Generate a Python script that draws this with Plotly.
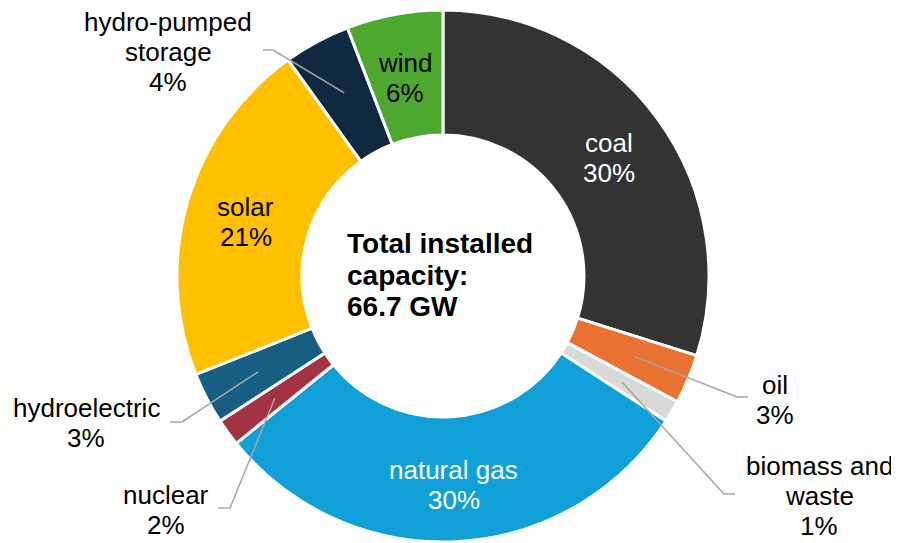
import math

import plotly.graph_objects as go

# installed capacity by source, GW (total 66.7 GW)
SOURCES = [
    "coal",
    "oil",
    "biomass and<br>waste",
    "natural gas",
    "nuclear",
    "hydroelectric",
    "solar",
    "hydro-pumped<br>storage",
    "wind",
]
CAPACITY_GW = [19.9, 2.0, 0.9, 20.0, 1.1, 2.1, 14.1, 2.7, 3.9]
COLORS = [
    "#333333",
    "#E97132",
    "#D9D9D9",
    "#119FD7",
    "#A33342",
    "#175F82",
    "#FFC000",
    "#0F2941",
    "#4EA72E",
]
CENTER_TEXT = ["Total installed", "capacity:", "66.7 GW"]

# page is 899x543; the browser body adds an 8px margin around the plot div
PAGE_W, PAGE_H, BODY = 899, 543, 8
W, H = PAGE_W - BODY, PAGE_H - BODY
CX, CY, R = 443, 276, 266  # donut centre / outer radius, page pixels
HOLE = 0.53
FONT = "Liberation Sans, Arial, sans-serif"
SIZE = 26
LINE_H = 30

# labels drawn inside the ring: source -> text colour
INSIDE = {"coal": "white", "natural gas": "white", "solar": "black", "wind": "black"}
# labels outside with a leader line: source -> (label x, first line y, elbow, end)
OUTSIDE = {
    "oil": (775, 385, (737, 397), (748, 397)),
    "biomass and<br>waste": (819, 466, (724, 494), (735, 494)),
    "hydroelectric": (86, 408, (182, 422), (170, 422)),
    "nuclear": (166, 495, (230, 508), (218, 508)),
    "hydro-pumped<br>storage": (168, 22, (273, 50), (263, 50)),
}


def px(x):
    return (x - BODY) / W


def py(y):
    return 1 - (y - BODY) / H


def polar(angle_deg, r):
    a = math.radians(angle_deg)
    return CX + r * math.sin(a), CY - r * math.cos(a)


def add_lines(fig, x, y0, lines, color="black", bold=False, anchor="center",
              size=SIZE, step=LINE_H):
    for k, line in enumerate(lines):
        fig.add_annotation(
            x=px(x),
            y=py(y0 + k * step),
            xref="paper",
            yref="paper",
            text=f"<b>{line}</b>" if bold else line,
            showarrow=False,
            xanchor=anchor,
            yanchor="middle",
            font=dict(family=FONT, size=size, color=color),
        )


total = sum(CAPACITY_GW)
pcts = [round(v / total * 100) for v in CAPACITY_GW]
mids = []
cum = 0.0
for v in CAPACITY_GW:
    mids.append((cum + v / 2) / total * 360)
    cum += v

fig = go.Figure(
    go.Pie(
        labels=SOURCES,
        values=CAPACITY_GW,
        hole=HOLE,
        sort=False,
        direction="clockwise",
        rotation=0,
        marker=dict(colors=COLORS, line=dict(color="white", width=3)),
        textinfo="none",
        hoverinfo="label+value+percent",
        domain=dict(
            x=[px(CX - R), px(CX + R)],
            y=[py(CY + R), py(CY - R)],
        ),
    )
)

for name, pct, mid in zip(SOURCES, pcts, mids):
    lines = name.split("<br>") + [f"{pct}%"]
    if name in INSIDE:
        lx, ly = polar(mid, R * (1 + HOLE) / 2 + 2)
        ly += 4  # visual centre of the text sits a little below its box middle
        add_lines(fig, lx, ly - LINE_H * (len(lines) - 1) / 2, lines, INSIDE[name])
    else:
        lx, ly0, elbow, end = OUTSIDE[name]
        sx, sy = polar(mid, 208)
        fig.add_shape(
            type="path",
            xref="paper",
            yref="paper",
            path=(
                f"M {px(sx)},{py(sy)} L {px(elbow[0])},{py(elbow[1])} "
                f"L {px(end[0])},{py(end[1])}"
            ),
            line=dict(color="#A6A6A6", width=1.5),
        )
        add_lines(fig, lx, ly0, lines)

add_lines(fig, 345, 244, CENTER_TEXT, bold=True, anchor="left", size=28, step=31)

fig.update_layout(
    width=W,
    height=H,
    margin=dict(l=0, r=0, t=0, b=0),
    paper_bgcolor="white",
    plot_bgcolor="white",
    showlegend=False,
    font=dict(family=FONT, size=SIZE, color="black"),
)

fig.write_html("out.html")
